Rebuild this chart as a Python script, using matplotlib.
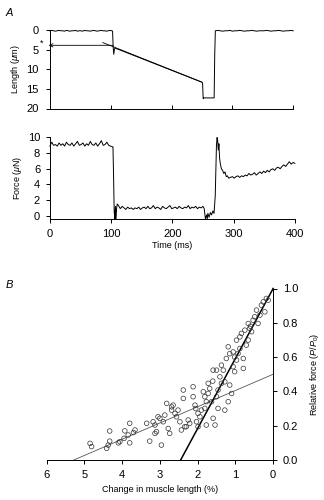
import numpy as np
import matplotlib
matplotlib.use('Agg')
import matplotlib.pyplot as plt

plt.rcParams['font.family'] = ['Liberation Sans', 'DejaVu Sans']
plt.rcParams['mathtext.fontset'] = 'custom'
plt.rcParams['mathtext.rm'] = 'Liberation Sans'
plt.rcParams['mathtext.it'] = 'Liberation Sans:italic'

# ---- panel A: length trace (um), sampled segments ----
len_rest1 = [0.2, 0.1, 0.2, 0.3, 0.2, 0.1, 0.2, 0.2, 0.3, 0.1,
             0.2, 0.3, 0.2, 0.2, 0.1, 0.3, 0.2, 0.2, 0.3, 0.1,
             0.2, 0.2, 0.3, 0.2, 0.1, 0.2, 0.3, 0.2, 0.1, 0.2,
             0.2, 0.3, 0.2, 0.1, 0.2]                      # t = 0..102 step 3
len_step_t = [103, 104, 105, 106, 107, 250, 251, 252, 253, 270, 271, 272]
len_step = [0.3, 4.3, 6.2, 5.0, 4.6, 13.3, 13.6, 17.5, 17.3, 17.3, 6.0, 0.2]
len_rest2 = [0.2, 0.1, 0.2, 0.3, 0.2, 0.2, 0.1, 0.3, 0.2, 0.2,
             0.1, 0.2, 0.3, 0.2, 0.2, 0.1, 0.2, 0.3, 0.2, 0.2,
             0.2, 0.1, 0.2, 0.3, 0.2, 0.2, 0.1, 0.2, 0.3, 0.2,
             0.2, 0.1, 0.2]                                # t = 272..400 step 4

# extrapolated ramp line and the intercept arrow
ramp_fit_t = [87, 250]
ramp_fit_len = [3.2, 13.3]
intercept_t = 104
intercept_len = 3.9

# ---- panel A: force trace (uN) ----
force_iso = [8.9, 9.4, 9.0, 9.1, 8.9, 9.3, 9.0, 9.2, 8.9, 9.4,
             9.1, 9.0, 9.3, 8.9, 9.2, 9.5, 9.0, 9.1, 9.3, 8.9,
             9.2, 9.0, 9.5, 9.1, 9.0, 9.3, 8.9, 9.2, 9.6, 9.0,
             9.1, 9.4, 9.0, 8.9, 8.8]                      # t = 0..102 step 3
force_drop_t = [103, 104, 105, 106, 107, 108, 109, 110]
force_drop = [8.8, 5.0, 0.5, -0.4, 1.2, -0.4, 1.0, 1.5]
force_short = [1.3, 0.9, 1.2, 1.0, 0.8, 1.1, 0.9, 1.0, 0.8, 1.0,
               0.9, 1.1, 0.8, 1.0, 1.1, 0.9, 1.2, 0.9, 1.0, 1.3,
               0.9, 1.1, 1.0, 0.8, 1.2, 1.0, 0.9, 1.1, 1.3, 0.9,
               1.0, 1.1, 0.9, 1.2, 1.0, 0.9, 1.1, 1.0, 1.3, 0.9,
               1.1, 1.0, 1.2, 0.9, 1.1, 1.0, 1.2]          # t = 112..250 step 3
force_re_t = [252, 253, 254, 256, 257, 258, 260, 262, 264, 266, 268, 270,
              271, 272, 273, 274, 275, 276, 277, 278, 280, 282, 284, 286,
              288, 290, 292]
force_re = [0.9, 0.2, -0.4, 0.1, -0.4, 0.3, -0.2, 0.4, 0.1, 0.6, 0.3, 2.5,
            6.0, 9.0, 10.0, 9.6, 8.4, 9.2, 7.5, 6.8, 6.0, 5.8, 5.4, 5.6,
            5.0, 5.1, 4.8]
force_recov = [4.9, 5.0, 4.8, 5.0, 5.1, 4.9, 5.1, 5.0, 5.2, 5.1,
               5.4, 5.2, 5.3, 5.5, 5.2, 5.4, 5.6, 5.4, 5.7, 5.5,
               5.8, 5.6, 5.9, 6.0, 5.8, 6.1, 6.2, 6.0, 6.3, 6.5,
               6.3, 6.6, 6.9, 6.6, 6.8, 6.7]               # t = 295..400 step 3

# ---- panel B: relative force vs change in muscle length ----
dl = [4.85, 4.81, 4.33, 4.37, 4.41, 4.33, 4.10, 4.06, 3.95, 3.93,
      3.84, 3.80, 3.80, 3.70, 3.66, 3.35, 3.27, 3.18, 3.13, 3.13,
      3.09, 3.05, 3.00, 2.96, 2.91, 2.87, 2.82, 2.78, 2.74, 2.69,
      2.69, 2.65, 2.60, 2.56, 2.52, 2.47, 2.43, 2.38, 2.38, 2.34,
      2.30, 2.25, 2.21, 2.12, 2.12, 2.07, 2.03, 1.99, 1.99, 1.94,
      1.90, 1.85, 1.81, 1.81, 1.77, 1.77, 1.72, 1.72, 1.68, 1.63,
      1.59, 1.59, 1.54, 1.50, 1.50, 1.46, 1.46, 1.41, 1.37, 1.37,
      1.32, 1.28, 1.28, 1.24, 1.19, 1.15, 1.19, 1.10, 1.06, 1.02,
      0.97, 0.97, 0.93, 0.88, 0.88, 0.84, 0.79, 0.79, 0.75, 0.71,
      0.66, 0.66, 0.62, 0.57, 0.53, 0.49, 0.44, 0.40, 0.35, 0.31,
      0.26, 0.22, 0.18, 0.13, 1.15, 1.06, 2.05, 1.60, 1.02, 0.60]
rel_force = [0.097, 0.078, 0.169, 0.087, 0.068, 0.110, 0.100, 0.107, 0.126, 0.170,
             0.146, 0.214, 0.100, 0.160, 0.175, 0.214, 0.110, 0.223, 0.204, 0.155,
             0.165, 0.252, 0.243, 0.087, 0.223, 0.262, 0.330, 0.184, 0.155, 0.291,
             0.310, 0.320, 0.272, 0.252, 0.291, 0.223, 0.175, 0.408, 0.359, 0.194,
             0.194, 0.233, 0.214, 0.427, 0.369, 0.320, 0.223, 0.272, 0.194, 0.252,
             0.291, 0.398, 0.369, 0.301, 0.340, 0.204, 0.447, 0.388, 0.417, 0.340,
             0.524, 0.243, 0.204, 0.524, 0.369, 0.408, 0.301, 0.485, 0.553, 0.447,
             0.524, 0.456, 0.291, 0.592, 0.340, 0.437, 0.660, 0.388, 0.544, 0.515,
             0.583, 0.699, 0.621, 0.650, 0.718, 0.738, 0.534, 0.592, 0.757, 0.670,
             0.699, 0.796, 0.767, 0.748, 0.815, 0.835, 0.874, 0.796, 0.845, 0.903,
             0.922, 0.864, 0.942, 0.932, 0.620, 0.630, 0.300, 0.460, 0.600, 0.780]
steep_fit_x = [2.45, 0.0]
steep_fit_y = [0.0, 1.0]
shallow_fit_x = [5.28, 0.0]
shallow_fit_y = [0.0, 0.5]


def build_trace(parts):
    t = np.concatenate([np.asarray(p[0], float) for p in parts])
    v = np.concatenate([np.asarray(p[1], float) for p in parts])
    return t, v


def main():
    fig = plt.figure(figsize=(3.24, 5.0), dpi=100)
    tick_fs = 8
    lab_fs = 6.5

    # length trace
    t_len, v_len = build_trace([
        (np.arange(0, 103, 3), len_rest1),
        (len_step_t, len_step),
        (np.arange(272, 401, 4), len_rest2),
    ])
    ax1 = fig.add_axes([0.154, 0.783, 0.751, 0.157])
    ax1.plot(t_len, v_len, color='black', lw=0.7, clip_on=False)
    ax1.plot(ramp_fit_t, ramp_fit_len, color='black', lw=0.6, clip_on=False)
    ax1.annotate('', xy=(-2, intercept_len), xytext=(intercept_t, intercept_len),
                 arrowprops=dict(arrowstyle='->', lw=0.6, color='black',
                                 shrinkA=0, shrinkB=0, mutation_scale=6),
                 annotation_clip=False)
    ax1.text(-13, intercept_len - 0.5, '*', fontsize=6.5, ha='center', va='center')
    ax1.set_xlim(0, 400)
    ax1.set_ylim(20, 0)
    ax1.set_yticks([0, 5, 10, 15, 20])
    ax1.set_xticks([0, 100, 200, 300, 400])
    ax1.set_xticklabels([])
    ax1.tick_params(axis='x', direction='in', length=3, width=0.7)
    ax1.tick_params(axis='y', direction='out', length=3, width=0.7, labelsize=tick_fs, pad=5)
    ax1.set_ylabel(r'Length ($\mathit{\mu}$m)', fontsize=lab_fs, labelpad=3)
    for s in ['top', 'right']:
        ax1.spines[s].set_visible(False)
    for s in ['left', 'bottom']:
        ax1.spines[s].set_linewidth(0.7)

    # force trace
    t_f, v_f = build_trace([
        (np.arange(0, 103, 3), force_iso),
        (force_drop_t, force_drop),
        (np.arange(112, 251, 3), force_short),
        (force_re_t, force_re),
        (np.arange(295, 401, 3), force_recov),
    ])
    ax2 = fig.add_axes([0.154, 0.562, 0.756, 0.163])
    ax2.plot(t_f, v_f, color='black', lw=0.7, clip_on=False)
    ax2.set_xlim(0, 400)
    ax2.set_ylim(-0.42, 10)
    ax2.set_yticks([0, 2, 4, 6, 8, 10])
    ax2.set_xticks([0, 100, 200, 300, 400])
    ax2.tick_params(direction='out', length=3, width=0.7, labelsize=tick_fs, pad=4)
    ax2.set_ylabel(r'Force ($\mathit{\mu}$N)', fontsize=lab_fs, labelpad=3)
    ax2.set_xlabel('Time (ms)', fontsize=lab_fs, labelpad=2)
    for s in ['top', 'right']:
        ax2.spines[s].set_visible(False)
    for s in ['left', 'bottom']:
        ax2.spines[s].set_linewidth(0.7)

    # panel B
    ax3 = fig.add_axes([0.144, 0.08, 0.699, 0.343])
    ax3.scatter(dl, rel_force, s=11, facecolors='none', edgecolors='#333333',
                linewidths=0.5, clip_on=False, zorder=3)
    ax3.plot(shallow_fit_x, shallow_fit_y, color='#555555', lw=0.6, clip_on=False)
    ax3.plot(steep_fit_x, steep_fit_y, color='black', lw=1.1, clip_on=False)
    ax3.set_xlim(6, 0)
    ax3.set_ylim(0, 1.0)
    ax3.set_xticks([6, 5, 4, 3, 2, 1, 0])
    ax3.set_yticks([0.0, 0.2, 0.4, 0.6, 0.8, 1.0])
    ax3.yaxis.tick_right()
    ax3.yaxis.set_label_position('right')
    ax3.tick_params(direction='out', length=3, width=0.7, labelsize=tick_fs, pad=4)
    ax3.set_ylabel(r'Relative force ($\mathit{P}/\mathit{P}_0$)', fontsize=lab_fs,
                   rotation=90, labelpad=7)
    ax3.set_xlabel('Change in muscle length (%)', fontsize=lab_fs, labelpad=4)
    for s in ['top', 'left']:
        ax3.spines[s].set_visible(False)
    for s in ['right', 'bottom']:
        ax3.spines[s].set_linewidth(0.7)

    fig.text(0.018, 0.975, 'A', fontsize=8, style='italic', va='center')
    fig.text(0.018, 0.43, 'B', fontsize=8, style='italic', va='center')

    fig.savefig('out.png', dpi=100)


if __name__ == '__main__':
    main()
